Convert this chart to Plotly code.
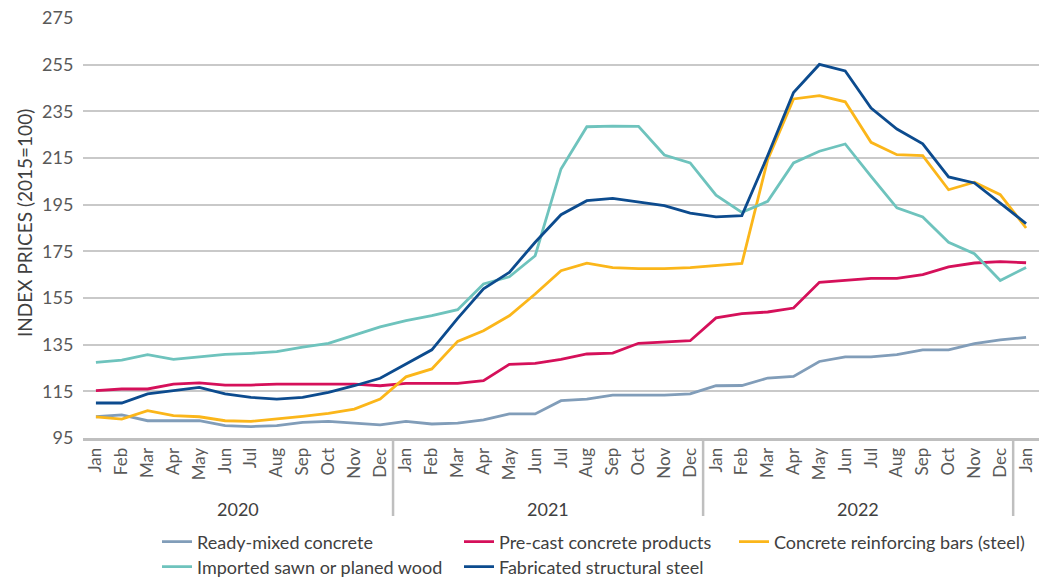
import plotly.graph_objects as go

years = ["2020", "2021", "2022", "2023"]
month_names = ["Jan", "Feb", "Mar", "Apr", "May", "Jun", "Jul", "Aug", "Sep", "Oct", "Nov", "Dec"]
periods = [f"{m} {y}" for y in years[:3] for m in month_names] + ["Jan 2023"]
tick_text = month_names * 3 + ["Jan"]

ready_mixed = [104.1, 104.9, 102.4, 102.4, 102.4, 100.3, 99.9, 100.3, 101.7, 102.1, 101.4, 100.6,
               102.1, 101.0, 101.4, 102.8, 105.3, 105.3, 111.0, 111.7, 113.4, 113.4, 113.4, 113.9,
               117.4, 117.5, 120.7, 121.4, 127.8, 129.8, 129.8, 130.7, 132.8, 132.8, 135.4, 137.1,
               138.1]
pre_cast = [115.3, 116.0, 116.0, 118.1, 118.6, 117.7, 117.7, 118.1, 118.1, 118.1, 118.1, 117.4,
            118.4, 118.4, 118.4, 119.6, 126.6, 127.0, 128.7, 131.0, 131.4, 135.6, 136.0, 136.7,
            146.5, 148.3, 149.0, 150.7, 161.7, 162.4, 163.4, 163.4, 165.0, 168.3, 170.0, 170.6,
            170.1]
rebar = [104.1, 103.1, 106.7, 104.6, 104.1, 102.4, 102.1, 103.1, 104.3, 105.6, 107.4, 111.7,
         121.2, 124.6, 136.4, 141.0, 147.4, 156.7, 166.7, 169.9, 168.0, 167.6, 167.6, 168.0,
         169.0, 169.8, 214.3, 240.3, 241.7, 239.1, 221.7, 216.4, 216.0, 201.4, 204.6, 199.3,
         185.0]
wood = [127.4, 128.4, 130.7, 128.7, 129.8, 130.8, 131.3, 132.0, 133.9, 135.6, 139.1, 142.6,
        145.3, 147.4, 150.0, 161.0, 164.1, 173.1, 210.3, 228.4, 228.7, 228.6, 216.3, 212.9,
        199.1, 191.7, 196.4, 212.9, 217.9, 221.0, 207.1, 193.6, 189.7, 178.9, 174.0, 162.5,
        168.1]
fab_steel = [110.0, 110.0, 113.9, 115.3, 116.7, 113.9, 112.4, 111.7, 112.4, 114.6, 117.4, 120.6,
             126.8, 132.8, 146.3, 158.9, 166.0, 178.9, 190.7, 196.7, 197.7, 196.3, 194.6, 191.4,
             189.8, 190.3, 216.0, 243.1, 255.1, 252.3, 236.4, 227.4, 221.1, 206.9, 204.3, 195.7,
             186.9]

y_ticks = [95, 115, 135, 155, 175, 195, 215, 235, 255, 275]

# name, values, colour, legend id, legend anchor (pixels: left x, row centre y)
series = [
    ("Ready-mixed concrete", ready_mixed, "#819DB9", "legend", 157, 542),
    ("Pre-cast concrete products", pre_cast, "#D5105A", "legend2", 459, 542),
    ("Concrete reinforcing bars (steel)", rebar, "#FBB61A", "legend3", 734, 542),
    ("Imported sawn or planed wood", wood, "#6EC3BD", "legend4", 157, 567),
    ("Fabricated structural steel", fab_steel, "#0C4B8E", "legend5", 459, 567),
]

FONT = "Lato"
L, R, T, B = 83, 21, 18, 139
W, H = 1060, 577
PW, PH = W - L - R, H - T - B


def px_x(px):
    return (px - L) / PW


def px_y(py):
    return (H - B - py) / PH


fig = go.Figure()
for name, vals, color, leg, _, _ in series:
    fig.add_trace(go.Scatter(x=periods, y=vals, mode="lines", name=name, showlegend=True,
                             line=dict(color=color, width=2.8), legend=leg))

group_starts = [0, 12, 24, 36]
shapes = []
annotations = []
for i, yr in enumerate(years[:3]):
    s, e = group_starts[i], group_starts[i + 1] - 1
    annotations.append(dict(x=(s + e) / 2, y=px_y(509), xref="x", yref="paper", text=yr,
                            showarrow=False, yanchor="middle",
                            font=dict(family=FONT, size=18, color="#404040")))
    shapes.append(dict(type="line", xref="x", yref="paper", x0=e + 0.5, x1=e + 0.5,
                       y0=0, y1=px_y(516), line=dict(color="#BFBFBF", width=2.5)))

annotations.append(dict(x=px_x(24), y=px_y(223), xref="paper", yref="paper",
                        text="INDEX PRICES (2015=100)", textangle=-90, showarrow=False,
                        xanchor="center", yanchor="middle",
                        font=dict(family=FONT, size=19, color="#404040")))

legends = {}
for name, vals, color, leg, lx, ly in series:
    legends[leg] = dict(orientation="v", xref="paper", yref="paper",
                        x=px_x(lx), y=px_y(ly), xanchor="left", yanchor="middle",
                        bgcolor="rgba(0,0,0,0)",
                        font=dict(family=FONT, size=18, color="#404040"),
                        itemwidth=30, visible=True)

fig.update_layout(
    width=W, height=H,
    showlegend=True,
    margin=dict(l=L, r=R, t=T, b=B, autoexpand=False),
    paper_bgcolor="white", plot_bgcolor="white",
    font=dict(family=FONT, color="#404040"),
    xaxis=dict(type="category", categoryorder="array", categoryarray=periods,
               range=[-0.5, 36.5], tickmode="array", tickvals=periods, ticktext=tick_text,
               tickangle=-90, tickfont=dict(family=FONT, size=17, color="#595959"),
               showgrid=False, showline=True, linecolor="#BFBFBF", linewidth=3,
               ticks="", automargin=False),
    yaxis=dict(range=[95, 275], tickmode="array", tickvals=y_ticks,
               tickfont=dict(family=FONT, size=18, color="#595959"),
               showgrid=True, gridcolor="#C9C9C9", gridwidth=1.5, zeroline=False,
               ticks="outside", ticklen=5, tickcolor="rgba(0,0,0,0)", automargin=False),
    shapes=shapes,
    annotations=annotations,
    **legends,
)

fig.write_html("out.html")
